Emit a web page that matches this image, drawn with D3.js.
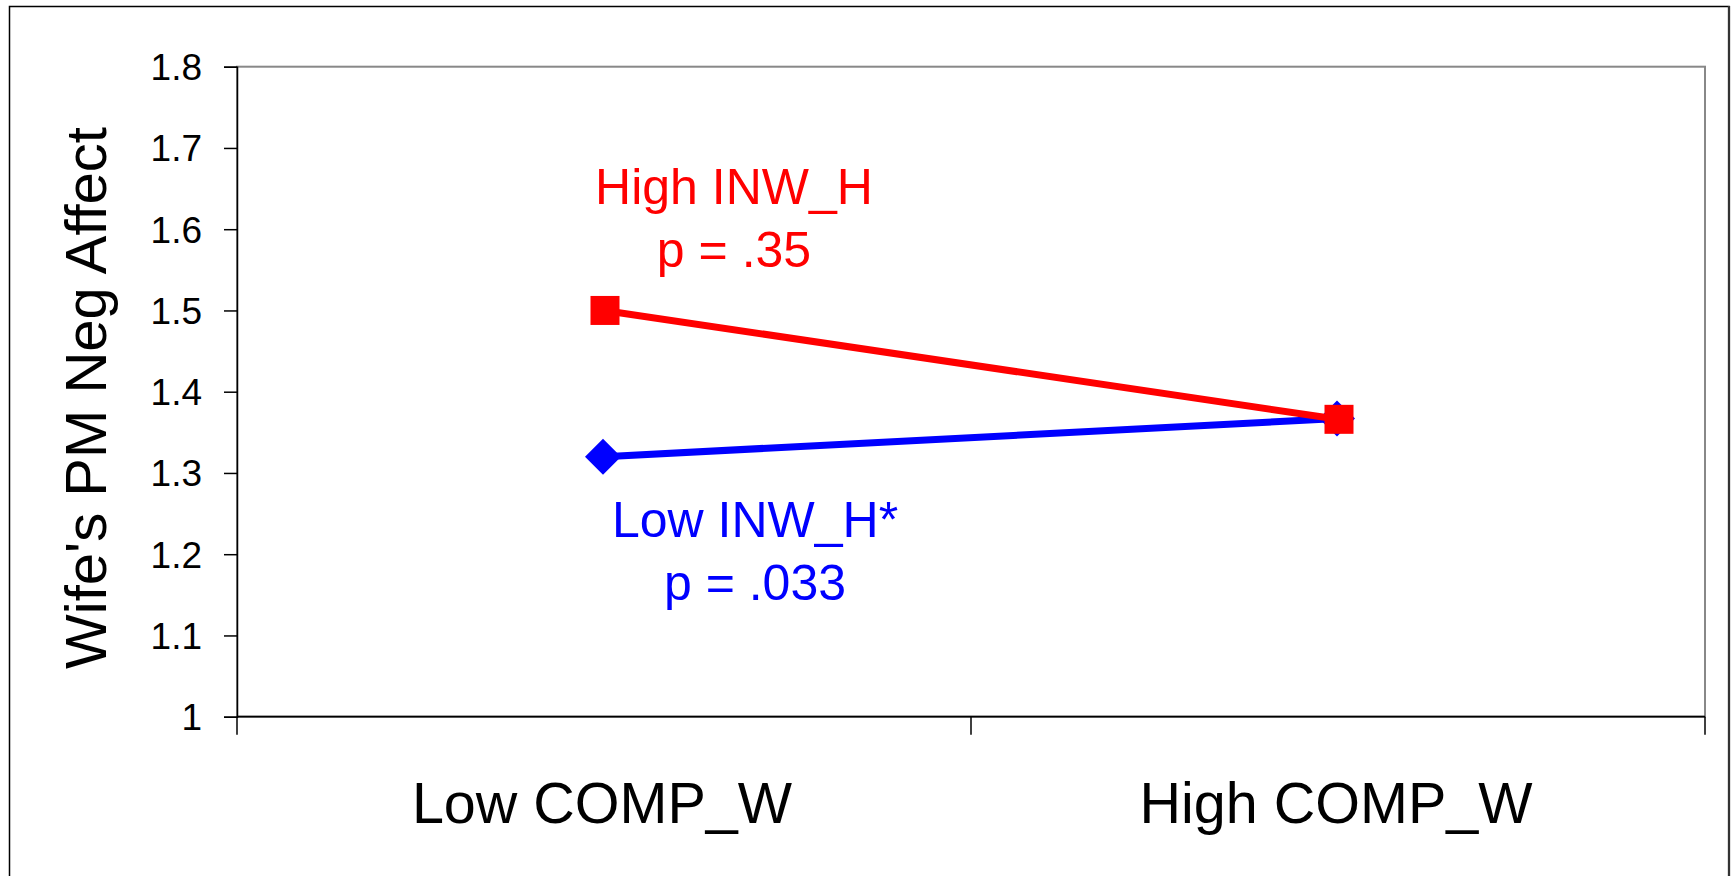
<!DOCTYPE html>
<html>
<head>
<meta charset="utf-8">
<script src="https://cdn.jsdelivr.net/npm/d3@7"></script>
<style>
  html, body { margin: 0; padding: 0; background: #fff; }
  svg { display: block; font-family: "Liberation Sans", Arial, sans-serif; }
</style>
</head>
<body>
<svg id="chart" width="1733" height="876"></svg>
<script>
const categories = ["Low COMP_W", "High COMP_W"];
const seriesNames = ["Low INW_H*", "High INW_H"];
const lowINW = [1.32, 1.367];
const highINW = [1.50, 1.366];
const yTicks = [1, 1.1, 1.2, 1.3, 1.4, 1.5, 1.6, 1.7, 1.8];
const yTitle = "Wife's PM Neg Affect";
const pLow = "p = .033";
const pHigh = "p = .35";

const W = 1733, H = 876;
const m = { left: 237, right: 1705, top: 66.7, bottom: 716.7 };
const svg = d3.select("#chart");

// outer frame
svg.append("rect").attr("x", 9.5).attr("y", 6.5).attr("width", 1719.5).attr("height", 900)
  .attr("fill", "#fff").attr("stroke", "#000").attr("stroke-width", 1.5);
svg.append("line").attr("x1", 1729).attr("x2", 1729).attr("y1", 6).attr("y2", H)
  .attr("stroke", "#333").attr("stroke-width", 2.3);

const x = d3.scaleBand().domain(categories).range([m.left, m.right]).padding(0);
const y = d3.scaleLinear().domain([1, 1.8]).range([m.bottom, m.top]);

// plot area
svg.append("rect").attr("x", m.left).attr("y", m.top)
  .attr("width", m.right - m.left).attr("height", m.bottom - m.top)
  .attr("fill", "#fff").attr("stroke", "#888").attr("stroke-width", 2);

// y axis
const yAxis = d3.axisLeft(y).tickValues(yTicks).tickSize(13).tickPadding(22)
  .tickFormat(d3.format("~g"));
const gy = svg.append("g").attr("transform", `translate(${m.left},0)`).call(yAxis);
gy.select(".domain").attr("stroke", "#000").attr("stroke-width", 1.5);
gy.selectAll(".tick line").attr("stroke", "#000").attr("stroke-width", 1.5);
gy.selectAll(".tick text").attr("font-size", 37).attr("fill", "#000")
  .attr("font-family", "'Liberation Sans', Arial, sans-serif").attr("dy", "0.35em");

// x axis
const gx = svg.append("g").attr("transform", `translate(0,${m.bottom})`);
gx.append("line").attr("x1", m.left).attr("x2", m.right).attr("y1", 0).attr("y2", 0)
  .attr("stroke", "#000").attr("stroke-width", 1.8);
const tickPos = [x.range()[0]].concat(categories.map(c => x(c) + x.bandwidth()));
gx.selectAll(".xt").data(tickPos).join("line").attr("class", "xt")
  .attr("x1", d => d).attr("x2", d => d).attr("y1", 0).attr("y2", 18)
  .attr("stroke", "#000").attr("stroke-width", 1.5);
gx.selectAll(".xl").data(categories).join("text").attr("class", "xl")
  .attr("x", d => x(d) + x.bandwidth() / 2 - 2).attr("y", 106.6)
  .attr("text-anchor", "middle").attr("font-size", 57.5).attr("fill", "#000").text(d => d);

// y title
svg.append("text").attr("transform", `translate(106,398) rotate(-90)`)
  .attr("text-anchor", "middle").attr("font-size", 58).attr("fill", "#000").text(yTitle);

const cx = d => x(d) + x.bandwidth() / 2;
const line = d3.line().x(d => cx(d.c)).y(d => y(d.v));

const lowData = categories.map((c, i) => ({ c, v: lowINW[i] }));
const highData = categories.map((c, i) => ({ c, v: highINW[i] }));

// blue series
svg.append("path").datum(lowData).attr("d", line).attr("fill", "none")
  .attr("stroke", "#0000FF").attr("stroke-width", 7);
const diamond = 18;
svg.selectAll(".dm").data(lowData).join("path").attr("class", "dm")
  .attr("d", d => `M${cx(d.c) - 1},${y(d.v) - diamond} l${diamond},${diamond} l${-diamond},${diamond} l${-diamond},${-diamond} Z`)
  .attr("fill", "#0000FF");

// red series
svg.append("path").datum(highData).attr("d", line).attr("fill", "none")
  .attr("stroke", "#FF0000").attr("stroke-width", 7);
const sq = 29;
svg.selectAll(".sq").data(highData).join("rect").attr("class", "sq")
  .attr("x", d => cx(d.c) - sq / 2 + 1).attr("y", d => y(d.v) - sq / 2)
  .attr("width", sq).attr("height", sq).attr("fill", "#FF0000");

// annotations
const c0 = cx(categories[0]);
const redG = svg.append("g").attr("fill", "#FF0000").attr("font-size", 50).attr("text-anchor", "middle");
redG.append("text").attr("x", c0 + 130).attr("y", 204.3).text(seriesNames[1]);
redG.append("text").attr("x", c0 + 130).attr("y", 266.7).text(pHigh);

const blueG = svg.append("g").attr("fill", "#0000FF").attr("font-size", 50).attr("text-anchor", "middle");
blueG.append("text").attr("x", c0 + 151).attr("y", 537.3).text(seriesNames[0]);
blueG.append("text").attr("x", c0 + 151).attr("y", 600).text(pLow);
</script>
</body>
</html>
